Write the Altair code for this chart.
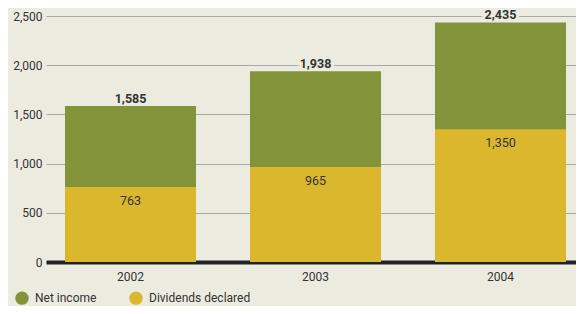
import altair as alt
import pandas as pd

years = ["2002", "2003", "2004"]
net_income = [1585, 1938, 2435]
dividends = [763, 965, 1350]
series = ["Net income", "Dividends declared"]
colors = ["#82933a", "#dbb72d"]
y_ticks = [0, 500, 1000, 1500, 2000, 2500]

rows = []
for i, y in enumerate(years):
    rows.append({"year": y, "series": series[0], "value": net_income[i], "ord": 0})
    rows.append({"year": y, "series": series[1], "value": dividends[i], "ord": 1})
df = pd.DataFrame(rows)

FONT = "Roboto"
BG = "#ebecdf"

x_enc = alt.X(
    "year:N",
    scale=alt.Scale(domain=years, paddingInner=0.292, paddingOuter=0.0785, align=0.655),
    axis=alt.Axis(title=None, labelAngle=0, ticks=False, domain=True, domainColor="#222222",
                  domainWidth=4, labelPadding=9, labelFontSize=12, labelColor="#333333",
                  labelFont=FONT, grid=False),
)
y_enc = alt.Y("value:Q", stack=None, scale=alt.Scale(domain=[0, 2500], nice=False),
              axis=alt.Axis(title=None, values=y_ticks, format=",.0f", ticks=False, domain=False,
                            grid=True, gridColor="#a8a8a8", gridWidth=1.2, labelPadding=4,
                            labelFontSize=12, labelColor="#333333", labelFont=FONT))

bars = alt.Chart(df).mark_bar(size=131).encode(
    x=x_enc,
    y=y_enc,
    color=alt.Color("series:N", scale=alt.Scale(domain=series, range=colors),
                    legend=alt.Legend(title=None, orient="none", legendX=-31, legendY=275,
                                      direction="horizontal", symbolType="circle",
                                      symbolSize=180, symbolStrokeWidth=0, labelFont=FONT,
                                      labelFontSize=12, labelColor="#333333", labelOffset=6,
                                      columnPadding=32)),
    order=alt.Order("ord:Q"),
)

tot_df = df[df["series"] == series[0]]
div_df = df[df["series"] == series[1]]

tot_mask = alt.Chart(tot_df).mark_text(
    font=FONT, fontSize=12.5, fontWeight="bold", baseline="alphabetic", dy=-3,
    stroke=BG, strokeWidth=6, fill=BG,
).encode(x=x_enc, y=y_enc, text=alt.Text("value:Q", format=","))

tot_text = alt.Chart(tot_df).mark_text(
    font=FONT, fontSize=12.5, fontWeight="bold", baseline="alphabetic", dy=-3, color="#333333",
).encode(x=x_enc, y=y_enc, text=alt.Text("value:Q", format=","))

div_text = alt.Chart(div_df).mark_text(
    font=FONT, fontSize=12.5, baseline="middle", dy=14, color="#333333",
).encode(x=x_enc, y=y_enc, text=alt.Text("value:Q", format=","))

chart = alt.layer(tot_mask, bars, tot_text, div_text).properties(
    width=530, height=246,
    background=BG,
    padding={"left": 38, "top": 8, "right": 0, "bottom": 44},
    autosize=alt.AutoSizeParams(type="none"),
).configure_view(stroke=None)

chart.save("out.html", embed_options={"renderer": "svg", "actions": False})
